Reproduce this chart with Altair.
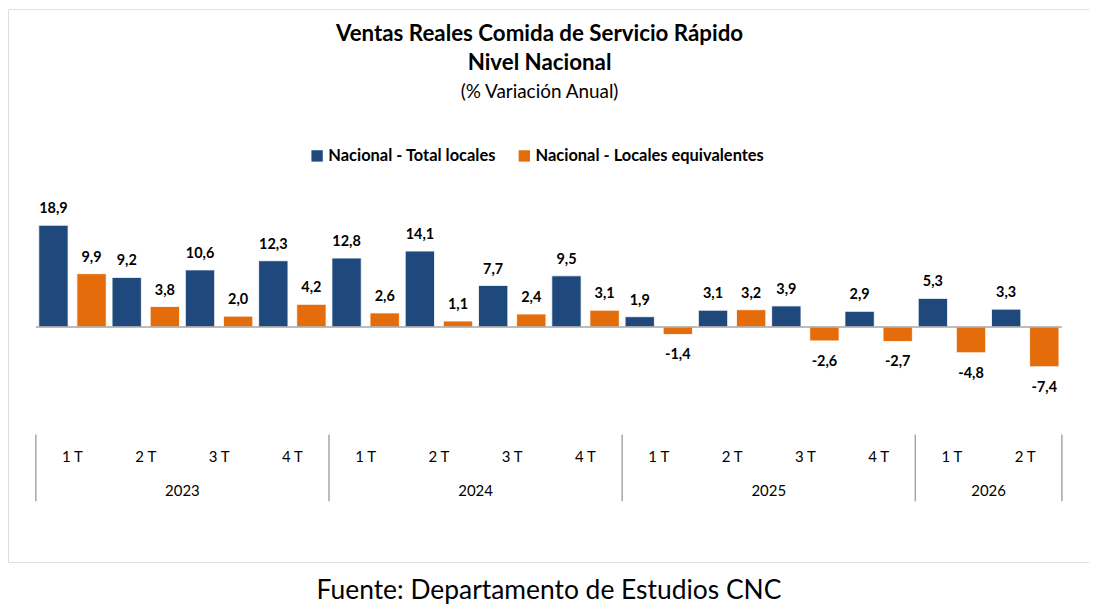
import altair as alt
import pandas as pd

# ---------------- data ----------------
years = ["2023", "2023", "2023", "2023", "2024", "2024", "2024", "2024",
         "2025", "2025", "2025", "2025", "2026", "2026"]
quarters = ["1 T", "2 T", "3 T", "4 T", "1 T", "2 T", "3 T", "4 T",
            "1 T", "2 T", "3 T", "4 T", "1 T", "2 T"]
total_locales = [18.9, 9.2, 10.6, 12.3, 12.8, 14.1, 7.7, 9.5, 1.9, 3.1, 3.9, 2.9, 5.3, 3.3]
locales_equiv = [9.9, 3.8, 2.0, 4.2, 2.6, 1.1, 2.4, 3.1, -1.4, 3.2, -2.6, -2.7, -4.8, -7.4]
series_names = ["Nacional - Total locales", "Nacional - Locales equivalentes"]
series_colors = ["#1F497D", "#E46C0A"]

FONT = "Lato"

rows = []
for i in range(len(quarters)):
    for s, vals in enumerate([total_locales, locales_equiv]):
        rows.append({"idx": i, "s": s, "serie": series_names[s], "valor": vals[i]})
bars_df = pd.DataFrame(rows)

q_df = pd.DataFrame({"idx": list(range(len(quarters))), "q": quarters})

yr_rows = []
for y in sorted(set(years)):
    ids = [i for i, yy in enumerate(years) if yy == y]
    yr_rows.append({"year": y, "start": min(ids), "end": max(ids) + 1})
yr_df = pd.DataFrame(yr_rows)
yr_df["center"] = (yr_df["start"] + yr_df["end"]) / 2
bounds_df = pd.DataFrame({"b": sorted(set(yr_df["start"]).union(set(yr_df["end"])))})
zero_df = pd.DataFrame({"a": [0], "b": [len(quarters)], "v": [0]})

W, H = 1085, 555
xscale = alt.Scale(domain=[-0.38, 14.37], nice=False, zero=False)
yscale = alt.Scale(domain=[-43.7, 59.07], nice=False, zero=False)

base = alt.Chart(bars_df).transform_calculate(
    x0="datum.idx + 0.04 + 0.52 * datum.s",
    x1="datum.idx + 0.44 + 0.52 * datum.s",
    xm="datum.idx + 0.24 + 0.52 * datum.s",
    lab="replace(replace(format(datum.valor, '.1f'), '.', ','), '\u2212', '-')",
)

bars = base.mark_bar(stroke="#ffffff", strokeWidth=0.8).encode(
    x=alt.X("x0:Q", scale=xscale,
            axis=alt.Axis(title="Fuente: Departamento de Estudios CNC", labels=False,
                          ticks=False, domain=False, grid=False,
                          titleFont=FONT, titleFontSize=26.5, titleFontWeight="normal",
                          titleColor="#000000", titlePadding=16)),
    x2="x1:Q",
    y=alt.Y("valor:Q", scale=yscale, axis=None),
    y2=alt.datum(0),
    color=alt.Color("serie:N", scale=alt.Scale(domain=series_names, range=series_colors),
                    sort=series_names,
                    legend=alt.Legend(title=None, orient="none", legendX=302, legendY=139,
                                      direction="horizontal", symbolType="square",
                                      symbolSize=130, symbolStrokeWidth=0,
                                      labelFont=FONT, labelFontSize=16.5, labelLimit=0,
                                      labelFontWeight="bold", labelColor="#000000",
                                      columnPadding=20, labelOffset=3, padding=0)),
)

lab_pos = base.transform_filter("datum.valor >= 0").mark_text(
    font=FONT, fontSize=14.5, fontWeight="bold", color="#000000", baseline="middle", dy=-16
).encode(x=alt.X("xm:Q", scale=xscale), y=alt.Y("valor:Q", scale=yscale), text="lab:N")

lab_neg = base.transform_filter("datum.valor < 0").mark_text(
    font=FONT, fontSize=14.5, fontWeight="bold", color="#000000", baseline="middle", dy=21
).encode(x=alt.X("xm:Q", scale=xscale), y=alt.Y("valor:Q", scale=yscale), text="lab:N")

zero = alt.Chart(zero_df).mark_rule(color="#a6a6a6", strokeWidth=1.5).encode(
    x=alt.X("a:Q", scale=xscale), x2="b:Q", y=alt.Y("v:Q", scale=yscale)
)

seps = alt.Chart(bounds_df).mark_rule(color="#a6a6a6", strokeWidth=1.5).encode(
    x=alt.X("b:Q", scale=xscale), y=alt.value(427), y2=alt.value(494)
)

qlabels = alt.Chart(q_df).transform_calculate(xc="datum.idx + 0.5").mark_text(
    font=FONT, fontSize=15, color="#000000", baseline="middle"
).encode(x=alt.X("xc:Q", scale=xscale), y=alt.value(450), text="q:N")

ylabels = alt.Chart(yr_df).mark_text(
    font=FONT, fontSize=15, color="#000000", baseline="middle"
).encode(x=alt.X("center:Q", scale=xscale), y=alt.value(484), text="year:N")

chart = alt.layer(bars, lab_pos, lab_neg, zero, seps, qlabels, ylabels).properties(
    width=W, height=H, padding=0,
    title=alt.TitleParams(
        text=["Ventas Reales Comida de Servicio Rápido", "Nivel Nacional"],
        subtitle="(% Variación Anual)",
        font=FONT, fontSize=22.4, fontWeight="bold", color="#000000", lineHeight=30,
        subtitleFont=FONT, subtitleFontSize=19, subtitleColor="#000000",
        subtitlePadding=8, anchor="middle", offset=-93, dx=-9,
    ),
).configure_view(stroke="#a6a6a6", strokeWidth=1.2).configure(background="#ffffff")

chart.save("out.html", embed_options={"renderer": "svg", "actions": False})
